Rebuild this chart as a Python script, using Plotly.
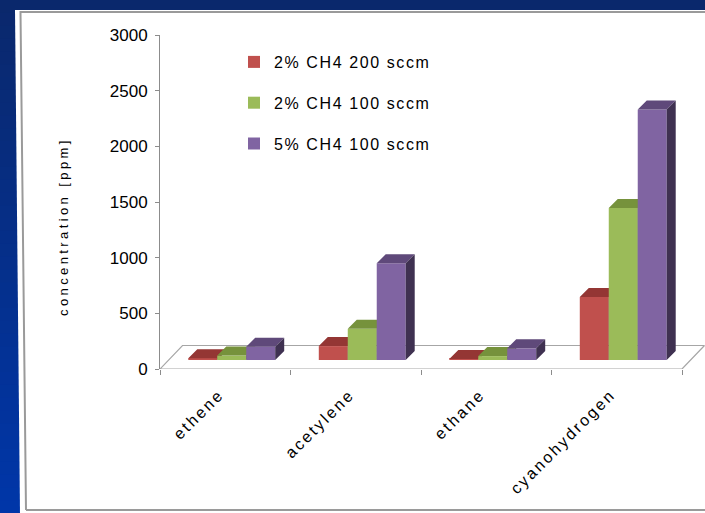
import plotly.graph_objects as go

# ---- data -------------------------------------------------------------
categories = ["ethene", "acetylene", "ethane", "cyanohydrogen"]
series_names = ["2% CH4 200 sccm", "2% CH4 100 sccm", "5% CH4 100 sccm"]
ch4_2pct_200sccm = [15, 125, 10, 565]
ch4_2pct_100sccm = [40, 280, 35, 1365]
ch4_5pct_100sccm = [120, 870, 105, 2250]
y_tick_values = [0, 500, 1000, 1500, 2000, 2500, 3000]
y_title = "concentration [ppm]"

series_values = [ch4_2pct_200sccm, ch4_2pct_100sccm, ch4_5pct_100sccm]
front_colors = ["#C0504D", "#9BBB59", "#8064A2"]
top_colors = ["#943634", "#76923C", "#5F497A"]
side_colors = ["#632423", "#4F6128", "#3F3151"]

# ---- geometry of the page (pixels) ------------------------------------
W, H = 705, 513
L, T = 160, 35                 # plot area origin
PW, PH = W - L, 334            # plot area size
Y_MAX = 3000
CAT_PX = 130.5                 # pixels per category
PX_PER_VAL = PH / Y_MAX

x_range = [-0.5, -0.5 + PW / CAT_PX]
y_range = [0, Y_MAX]


def dx(px):
    return px / CAT_PX


def dy(px):
    return px / PX_PER_VAL


def paper_x(px):
    return (px - L) / PW


def paper_y(py):
    return (T + PH - py) / PH


def spaced(text, px):
    return f'<span style="letter-spacing:{px}px">{text}</span>'


# oblique depth of the floor and of the bars
floor_dx, floor_dy = dx(22.5), dy(23.5)
front_dx, front_dy = dx(6.5), dy(9)      # bar front plane relative to axis plane
bar_dx, bar_dy = dx(9), dy(9)            # bar depth
bar_w = 0.222

fig = go.Figure()

# floor of the 3-D plot
n = len(categories)
fx = [-0.5, n - 0.5, n - 0.5 + floor_dx, -0.5 + floor_dx, -0.5]
fy = [0, 0, floor_dy, floor_dy, 0]
fig.add_trace(go.Scatter(
    x=fx, y=fy, mode="lines", fill="toself", fillcolor="white",
    line=dict(color="#A6A6A6", width=1.2), hoverinfo="skip",
    showlegend=False, cliponaxis=False,
))

# bars: one overlaid subplot per series so later series paint over earlier ones
cat_idx = list(range(n))
for k, vals in enumerate(series_values):
    xa, ya = f"x{k + 2}", f"y{k + 2}"
    off = -1.5 * bar_w + k * bar_w
    fig.add_trace(go.Bar(
        x=cat_idx, y=vals, width=bar_w, offset=off,
        marker=dict(color=front_colors[k], line=dict(width=0)),
        name=spaced(series_names[k], 1.6), legendgroup=f"g{k}",
        xaxis=xa, yaxis=ya, hoverinfo="skip",
    ))
    top_x, top_y, side_x, side_y = [], [], [], []
    for i, v in zip(cat_idx, vals):
        xl = i + off
        xr = xl + bar_w
        top_x += [xl, xr, xr + bar_dx, xl + bar_dx, xl, None]
        top_y += [v, v, v + bar_dy, v + bar_dy, v, None]
        side_x += [xr, xr + bar_dx, xr + bar_dx, xr, xr, None]
        side_y += [0, bar_dy, v + bar_dy, v, 0, None]
    fig.add_trace(go.Scatter(
        x=top_x, y=top_y, mode="lines", fill="toself",
        fillcolor=top_colors[k], line=dict(width=0, color=top_colors[k]),
        xaxis=xa, yaxis=ya, showlegend=False, legendgroup=f"g{k}",
        hoverinfo="skip",
    ))
    fig.add_trace(go.Scatter(
        x=side_x, y=side_y, mode="lines", fill="toself",
        fillcolor=side_colors[k], line=dict(width=0, color=side_colors[k]),
        xaxis=xa, yaxis=ya, showlegend=False, legendgroup=f"g{k}",
        hoverinfo="skip",
    ))

font_family = "Liberation Sans, Arial, sans-serif"

layout = dict(
    width=W, height=H,
    margin=dict(l=L, r=W - L - PW, t=T, b=H - T - PH, pad=0),
    paper_bgcolor="#0033A0",
    plot_bgcolor="rgba(0,0,0,0)",
    font=dict(family=font_family, color="black"),
    showlegend=True,
    legend=dict(
        x=paper_x(234), y=paper_y(45), xanchor="left", yanchor="top",
        bgcolor="rgba(0,0,0,0)", font=dict(size=16, family=font_family),
        tracegroupgap=17, itemclick=False, itemdoubleclick=False,
    ),
    xaxis=dict(
        range=x_range, domain=[0, 1], showgrid=False, zeroline=False,
        showline=False, tickmode="array", tickvals=cat_idx,
        ticktext=[spaced(c, 2.4) for c in categories], tickangle=-45,
        ticks="", tickfont=dict(size=16, family=font_family),
        ticklabelstandoff=12, ticklabelshift=-6,
        minor=dict(tickmode="array",
                   tickvals=[i - 0.5 for i in range(n + 1)],
                   ticks="outside", ticklen=5, tickcolor="#8C8C8C",
                   showgrid=False),
        fixedrange=True,
    ),
    yaxis=dict(
        range=y_range, domain=[0, 1], showgrid=False, zeroline=False,
        showline=True, linecolor="#8C8C8C", linewidth=1,
        tickmode="array", tickvals=y_tick_values, ticks="outside",
        ticklen=4, tickcolor="#8C8C8C", ticklabelstandoff=4,
        tickfont=dict(size=17, family=font_family), fixedrange=True,
    ),
)
for k in range(len(series_values)):
    layout[f"xaxis{k + 2}"] = dict(
        overlaying="x", range=[x_range[0] - front_dx, x_range[1] - front_dx],
        visible=False, fixedrange=True)
    layout[f"yaxis{k + 2}"] = dict(
        overlaying="y", range=[y_range[0] - front_dy, y_range[1] - front_dy],
        visible=False, fixedrange=True)
fig.update_layout(**layout)

# slide background: dark navy at the top fading into royal blue
shapes = []
bands = 40
c0, c1 = (10, 40, 108), (0, 54, 168)
for b in range(bands):
    t = b / (bands - 1)
    col = tuple(round(c0[j] + (c1[j] - c0[j]) * t) for j in range(3))
    y0, y1 = b * H / bands, (b + 1) * H / bands + 1
    shapes.append(dict(
        type="rect", xref="paper", yref="paper", layer="below",
        x0=paper_x(-2), x1=paper_x(W + 2), y0=paper_y(y0), y1=paper_y(y1),
        fillcolor="rgb(%d,%d,%d)" % col, line=dict(width=0)))

# white chart panel with a grey frame
panel = "M {} {} L {} {} L {} {} L {} {} Z".format(
    paper_x(15), paper_y(10), paper_x(W + 5), paper_y(10),
    paper_x(W + 5), paper_y(H + 2), paper_x(20), paper_y(H + 2))
shapes.append(dict(type="path", xref="paper", yref="paper", layer="below",
                   path=panel, fillcolor="white", line=dict(width=0)))
frame = "M {} {} L {} {} L {} {} M {} {} L {} {}".format(
    paper_x(W + 5), paper_y(12), paper_x(20.5), paper_y(12),
    paper_x(26), paper_y(510), paper_x(26), paper_y(510),
    paper_x(W + 5), paper_y(510))
shapes.append(dict(type="path", xref="paper", yref="paper", layer="below",
                   path=frame, line=dict(color="#9A9A9A", width=2)))
fig.update_layout(shapes=shapes)

fig.add_annotation(
    text=spaced(y_title, 3.4), xref="paper", yref="paper",
    x=paper_x(63), y=paper_y(227), textangle=-90, showarrow=False,
    font=dict(size=13, family=font_family, color="black"),
    xanchor="center", yanchor="middle",
)

fig.write_html("out.html")
